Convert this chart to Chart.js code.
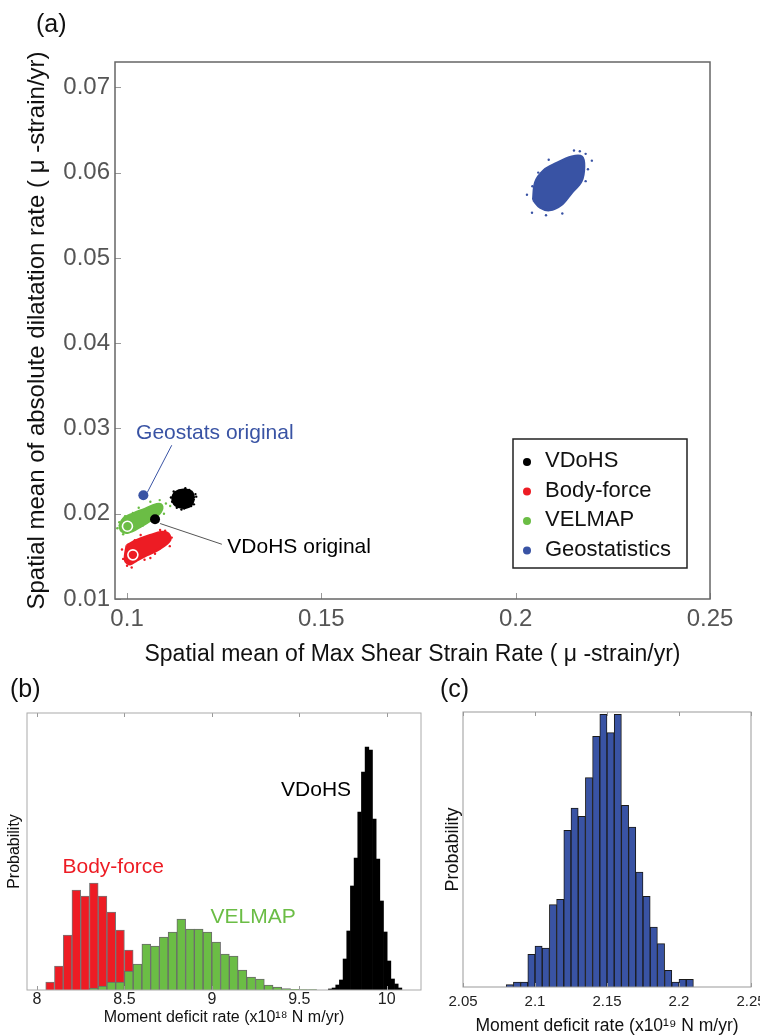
<!DOCTYPE html>
<html>
<head>
<meta charset="utf-8">
<script src="https://cdn.jsdelivr.net/npm/chart.js@4.4.1/dist/chart.umd.min.js"></script>
<style>
  body { margin: 0; background: #fff; }
  #wrap { position: relative; width: 760px; height: 1035px; overflow: hidden; font-family: 'Liberation Sans', Arial, sans-serif; }
  #wrap canvas { position: absolute; }
  .tag { position: absolute; font-size: 25px; color: #111; line-height: 1; }
</style>
</head>
<body>
<div id="wrap">
  <canvas id="scatterA" width="760" height="680" style="left:0;top:0"></canvas>
  <canvas id="histB" width="430" height="355" style="left:0;top:680px"></canvas>
  <canvas id="histC" width="330" height="355" style="left:430px;top:680px"></canvas>
  <div class="tag" style="left:36px;top:11px">(a)</div>
  <div class="tag" style="left:10px;top:676px">(b)</div>
  <div class="tag" style="left:440px;top:676px">(c)</div>
</div>
<script>
Chart.defaults.font.family = "'Liberation Sans', Arial, sans-serif";
Chart.defaults.color = '#111';
Chart.defaults.animation = false;
Chart.defaults.plugins.legend.display = false;
Chart.defaults.plugins.tooltip.enabled = false;

// ---- (a) strain-rate scatter ----
const methodNames = ['VDoHS', 'Body-force', 'VELMAP', 'Geostatistics'];
const methodColors = ['#000000', '#ed1c24', '#6bbd45', '#3953a4'];

// original (un-perturbed) solutions
const originalX = [0.1072, 0.1015, 0.1001, 0.1042];
const originalY = [0.01935, 0.01518, 0.01853, 0.02217];

// outlines of the Monte Carlo clouds
const vdohsCloudX = [0.11724, 0.11660, 0.11454, 0.11248, 0.11171, 0.11248, 0.11441, 0.11647];
const vdohsCloudY = [0.021815, 0.022578, 0.022812, 0.022519, 0.021757, 0.020994, 0.020700, 0.020994];
const bodyCloudX = [0.09992, 0.10250, 0.10592, 0.10893, 0.11063, 0.11107, 0.10849, 0.10507, 0.10250, 0.10077, 0.09949];
const bodyCloudY = [0.01630, 0.01689, 0.01747, 0.01786, 0.01767, 0.01689, 0.01591, 0.01513, 0.01454, 0.01407, 0.01454];
const velmapCloudX = [0.09802, 0.09905, 0.10162, 0.10419, 0.10764, 0.10893, 0.10867, 0.10677, 0.10335, 0.10033, 0.09864];
const velmapCloudY = [0.01853, 0.01943, 0.02002, 0.02049, 0.02111, 0.02099, 0.02021, 0.01943, 0.01845, 0.01779, 0.01794];
const geoCloudX = [0.20450, 0.20507, 0.20723, 0.21022, 0.21444, 0.21701, 0.21760, 0.21690, 0.21433, 0.21176, 0.20870, 0.20628];
const geoCloudY = [0.05680, 0.05889, 0.06026, 0.06104, 0.06186, 0.06186, 0.06069, 0.05898, 0.05760, 0.05623, 0.05560, 0.05592];

// loose samples around the cloud edges
const vdohsStrayX = [0.1178, 0.1116, 0.1150, 0.1140, 0.1172, 0.1120, 0.1160, 0.1128, 0.1176, 0.1113, 0.1147, 0.1165];
const vdohsStrayY = [0.0220, 0.0214, 0.0230, 0.0205, 0.0211, 0.0226, 0.0228, 0.0207, 0.0223, 0.0219, 0.0206, 0.0209];
const bodyStrayX = [0.0990, 0.1000, 0.1045, 0.1085, 0.1115, 0.1110, 0.1020, 0.0987, 0.1072, 0.1035, 0.1098, 0.1060, 0.1012];
const bodyStrayY = [0.0147, 0.0139, 0.0146, 0.0181, 0.0172, 0.0162, 0.0169, 0.0158, 0.0153, 0.0175, 0.0180, 0.0148, 0.0137];
const velmapStrayX = [0.0975, 0.0980, 0.0990, 0.1060, 0.1100, 0.1095, 0.1015, 0.1040, 0.1111, 0.0995, 0.1072, 0.1030, 0.1084];
const velmapStrayY = [0.0183, 0.0190, 0.0176, 0.0214, 0.0212, 0.0200, 0.0201, 0.0186, 0.0209, 0.0197, 0.0196, 0.0207, 0.0216];
const geoStrayX = [0.2029, 0.2042, 0.2180, 0.2196, 0.2165, 0.2120, 0.2085, 0.2180, 0.2078, 0.2186, 0.2043, 0.2150, 0.2058];
const geoStrayY = [0.0574, 0.0553, 0.0622, 0.0614, 0.0625, 0.0552, 0.0615, 0.0590, 0.0550, 0.0604, 0.0584, 0.0626, 0.0600];

// call-outs
const calloutTexts = ['Geostats original', 'VDoHS original'];
const calloutX = [0.10232, 0.12581];
const calloutY = [0.02948, 0.01610];
const calloutColors = ['#3953a4', '#000000'];
const geoLeaderX = [0.1115, 0.1052];
const geoLeaderY = [0.02803, 0.02249];
const vdohsLeaderX = [0.1085, 0.1244];
const vdohsLeaderY = [0.01885, 0.01642];

const xTicksA = [0.1, 0.15, 0.2, 0.25];
const xTickLabelsA = ['0.1', '0.15', '0.2', '0.25'];
const yTicksA = [0.01, 0.02, 0.03, 0.04, 0.05, 0.06, 0.07];
const yTickLabelsA = ['0.01', '0.02', '0.03', '0.04', '0.05', '0.06', '0.07'];

// ---- (b) moment deficit histograms ----
const bodyBinCenters = [8.075, 8.125, 8.175, 8.225, 8.275, 8.325, 8.375, 8.425, 8.475, 8.525];
const bodyBinHeights = [8, 24, 55, 100, 94, 107, 94, 78, 60, 40];
const velmapBinCenters = [8.325, 8.375, 8.425, 8.475, 8.525, 8.575, 8.625, 8.675, 8.725, 8.775, 8.825, 8.875, 8.925,
                          8.975, 9.025, 9.075, 9.125, 9.175, 9.225, 9.275, 9.325, 9.375, 9.425, 9.475, 9.525, 9.575];
const velmapBinHeights = [2, 4, 8, 8, 19, 26, 46, 44, 53, 58, 71, 61, 61, 58, 48, 36, 34, 20, 13, 11, 5, 3, 1.3, 0.7, 0.4, 0.3];
const vdohsBinCenters = [9.677, 9.698, 9.719, 9.740, 9.761, 9.782, 9.803, 9.824, 9.845, 9.866,
                         9.887, 9.908, 9.929, 9.950, 9.971, 9.992, 10.013, 10.034, 10.055, 10.076];
const vdohsBinHeights = [1, 2, 5, 10, 31, 59, 104, 132, 178, 218, 243, 240, 171, 131, 89, 58, 29, 11, 6, 2];
const histLabelsB = ['Body-force', 'VELMAP', 'VDoHS'];
const histLabelX = [8.436, 9.236, 9.596];
const histLabelY = [123, 73, 200];
const histLabelColors = ['#ed1c24', '#6bbd45', '#000000'];
const xTicksB = [8, 8.5, 9, 9.5, 10];
const xTickLabelsB = ['8', '8.5', '9', '9.5', '10'];

// ---- (c) geostatistics histogram ----
const geoBinCenters = [2.0825, 2.0875, 2.0925, 2.0975, 2.1025, 2.1075, 2.1125, 2.1175, 2.1225, 2.1275, 2.1325, 2.1375, 2.1425,
                       2.1475, 2.1525, 2.1575, 2.1625, 2.1675, 2.1725, 2.1775, 2.1825, 2.1875, 2.1925, 2.1975, 2.2025, 2.2075];
const geoBinHeights = [7, 15, 15, 98, 123, 117, 247, 263, 470, 537, 512, 628, 752, 818, 763, 818, 545, 480, 345, 272, 180, 130, 50, 15, 23, 23];
const xTicksC = [2.05, 2.1, 2.15, 2.2, 2.25];
const xTickLabelsC = ['2.05', '2.1', '2.15', '2.2', '2.25'];

function toPts(xs, ys) {
  return xs.map((x, i) => ({ x: x, y: ys[i] }));
}

function fixedTicks(values) {
  return scale => { scale.ticks = values.map(v => ({ value: v })); };
}

// boxed axes with inward tick marks
const frameTicks = {
  id: 'frameTicks',
  afterDraw(chart, args, opts) {
    const { ctx, chartArea: a } = chart;
    ctx.save();
    ctx.strokeStyle = opts.tickColor;
    ctx.lineWidth = 1;
    ctx.beginPath();
    const xs = chart.scales.x;
    xs.ticks.forEach(t => {
      const px = Math.round(xs.getPixelForValue(t.value)) + 0.5;
      if (opts.bottom) { ctx.moveTo(px, a.bottom); ctx.lineTo(px, a.bottom - opts.len); }
      if (opts.top) { ctx.moveTo(px, a.top); ctx.lineTo(px, a.top + opts.len); }
    });
    if (opts.left) {
      const ys = chart.scales.y;
      ys.ticks.forEach(t => {
        const py = Math.round(ys.getPixelForValue(t.value)) + 0.5;
        ctx.moveTo(a.left, py); ctx.lineTo(a.left + opts.len, py);
      });
    }
    ctx.stroke();
    ctx.strokeStyle = opts.color;
    ctx.lineWidth = opts.width;
    ctx.strokeRect(a.left, a.top, a.right - a.left, a.bottom - a.top);
    ctx.restore();
  }
};

// free text placed in data coordinates
const dataText = {
  id: 'dataText',
  afterDatasetsDraw(chart, args, opts) {
    const { ctx } = chart;
    const xs = chart.scales.x, ys = chart.scales.y;
    ctx.save();
    ctx.font = opts.size + "px 'Liberation Sans', Arial, sans-serif";
    ctx.textBaseline = 'middle';
    ctx.textAlign = opts.align;
    opts.texts.forEach((t, i) => {
      ctx.fillStyle = opts.colors[i];
      ctx.fillText(t, xs.getPixelForValue(opts.xs[i]), ys.getPixelForValue(opts.ys[i]));
    });
    ctx.restore();
  }
};

// legend box in the lower right of panel (a)
const methodLegend = {
  id: 'methodLegend',
  afterDraw(chart) {
    const { ctx } = chart;
    ctx.save();
    ctx.fillStyle = '#fff';
    ctx.fillRect(513, 439, 174, 129);
    ctx.strokeStyle = '#222';
    ctx.lineWidth = 1.5;
    ctx.strokeRect(513, 439, 174, 129);
    ctx.font = "22px 'Liberation Sans', Arial, sans-serif";
    ctx.textBaseline = 'middle';
    methodNames.forEach((name, i) => {
      const y = 461 + i * 29.5;
      ctx.fillStyle = methodColors[i];
      ctx.beginPath();
      ctx.arc(527, y + 1, 4, 0, Math.PI * 2);
      ctx.fill();
      ctx.fillStyle = '#111';
      ctx.fillText(name, 545, y);
    });
    ctx.restore();
  }
};

function cloudOutline(xs, ys, color) {
  const pts = toPts(xs, ys);
  pts.push(pts[0]);
  return {
    type: 'line', data: pts, fill: 'shape', backgroundColor: color, borderColor: color,
    borderWidth: 2.5, pointRadius: 0, tension: 0.35, order: 4
  };
}

function strays(xs, ys, color) {
  return { type: 'scatter', data: toPts(xs, ys), backgroundColor: color, borderWidth: 0, pointRadius: 1.2, order: 3 };
}

function leader(xs, ys, color) {
  return { type: 'line', data: toPts(xs, ys), borderColor: color, borderWidth: 1, pointRadius: 0, fill: false, order: 2 };
}

const originalPoints = {
  type: 'scatter',
  data: toPts(originalX, originalY),
  backgroundColor: methodColors,
  borderColor: ['#000000', '#ffffff', '#ffffff', '#3953a4'],
  borderWidth: [0, 1.6, 1.6, 0],
  pointRadius: 5,
  order: 0
};

new Chart(document.getElementById('scatterA'), {
  type: 'scatter',
  data: {
    datasets: [
      cloudOutline(geoCloudX, geoCloudY, methodColors[3]),
      cloudOutline(bodyCloudX, bodyCloudY, methodColors[1]),
      cloudOutline(velmapCloudX, velmapCloudY, methodColors[2]),
      cloudOutline(vdohsCloudX, vdohsCloudY, methodColors[0]),
      strays(geoStrayX, geoStrayY, methodColors[3]),
      strays(bodyStrayX, bodyStrayY, methodColors[1]),
      strays(velmapStrayX, velmapStrayY, methodColors[2]),
      strays(vdohsStrayX, vdohsStrayY, methodColors[0]),
      leader(geoLeaderX, geoLeaderY, '#3953a4'),
      leader(vdohsLeaderX, vdohsLeaderY, '#555555'),
      originalPoints
    ]
  },
  options: {
    responsive: false,
    layout: { padding: { top: 62, right: 50, left: 0, bottom: 0 } },
    scales: {
      x: {
        type: 'linear', min: 0.0969, max: 0.25,
        afterBuildTicks: fixedTicks(xTicksA),
        afterFit: s => { s.height = 81; s.paddingLeft = 0; s.paddingRight = 0; },
        grid: { display: false, drawTicks: false },
        border: { display: false },
        ticks: { callback: (v, i) => xTickLabelsA[i], font: { size: 24 }, color: '#555', padding: 6, maxRotation: 0, autoSkip: false },
        title: { display: true, text: 'Spatial mean of Max Shear Strain Rate ( μ -strain/yr)', font: { size: 23 }, color: '#111', padding: { top: 0, bottom: 12 } }
      },
      y: {
        type: 'linear', min: 0.01, max: 0.07297,
        afterBuildTicks: fixedTicks(yTicksA),
        afterFit: s => { s.width = 115; s.paddingTop = 0; s.paddingBottom = 0; },
        grid: { display: false, drawTicks: false },
        border: { display: false },
        ticks: { callback: (v, i) => yTickLabelsA[i], font: { size: 24 }, color: '#555', padding: 5, autoSkip: false },
        title: { display: true, text: 'Spatial mean of absolute dilatation rate ( μ -strain/yr)', font: { size: 24 }, color: '#111', padding: { top: 23, bottom: 0 } }
      }
    },
    plugins: {
      frameTicks: { color: '#666', width: 1.5, tickColor: '#999', len: 6, left: true, bottom: true },
      dataText: { texts: calloutTexts, xs: calloutX, ys: calloutY, colors: calloutColors, size: 21, align: 'left' }
    }
  },
  plugins: [frameTicks, dataText, methodLegend]
});

// ---- (b) ----
function histBars(centers, heights, fill, stroke, width, axis, order) {
  return {
    data: toPts(centers, heights), xAxisID: axis, backgroundColor: fill, borderColor: stroke,
    borderWidth: width, barPercentage: 1, categoryPercentage: 1, grouped: false, order: order
  };
}

const rangeB = { min: 7.943, max: 10.196 };

new Chart(document.getElementById('histB'), {
  type: 'bar',
  data: {
    datasets: [
      histBars(velmapBinCenters, velmapBinHeights, '#6bbd45', '#6a6a6a', 1, 'x2', 1),
      histBars(bodyBinCenters, bodyBinHeights, '#ed1c24', '#777777', 1, 'x', 2),
      histBars(vdohsBinCenters, vdohsBinHeights, '#000000', '#000000', 0, 'x3', 0)
    ]
  },
  options: {
    responsive: false,
    layout: { padding: { top: 33, right: 9, left: 0, bottom: 0 } },
    scales: {
      x: {
        type: 'linear', min: rangeB.min, max: rangeB.max, offset: false,
        afterBuildTicks: fixedTicks(xTicksB),
        afterFit: s => { s.height = 45; s.paddingLeft = 0; s.paddingRight = 0; },
        grid: { display: false, drawTicks: false },
        border: { display: false },
        ticks: { callback: (v, i) => xTickLabelsB[i], font: { size: 16 }, color: '#222', padding: 0, maxRotation: 0, autoSkip: false },
        title: { display: true, text: 'Moment deficit rate (x10¹⁸ N m/yr)', font: { size: 16 }, color: '#111', padding: { top: 0, bottom: 8 } }
      },
      x2: { type: 'linear', display: false, min: rangeB.min, max: rangeB.max, offset: false },
      x3: { type: 'linear', display: false, min: rangeB.min, max: rangeB.max, offset: false },
      y: {
        min: 0, max: 277,
        afterFit: s => { s.width = 27; },
        grid: { display: false, drawTicks: false },
        border: { display: false },
        ticks: { display: false },
        title: { display: true, text: 'Probability', font: { size: 16 }, color: '#111', padding: { top: 5, bottom: 0 } }
      }
    },
    plugins: {
      frameTicks: { color: '#aaa', width: 1, tickColor: '#999', len: 4, top: true, bottom: true },
      dataText: { texts: histLabelsB, xs: histLabelX, ys: histLabelY, colors: histLabelColors, size: 21, align: 'center' }
    }
  },
  plugins: [frameTicks, dataText]
});

// ---- (c) ----
new Chart(document.getElementById('histC'), {
  type: 'bar',
  data: {
    datasets: [histBars(geoBinCenters, geoBinHeights, '#3953a4', '#1a1a1a', 1, 'x', 0)]
  },
  options: {
    responsive: false,
    layout: { padding: { top: 32, right: 9, left: 0, bottom: 0 } },
    scales: {
      x: {
        type: 'linear', min: 2.05, max: 2.25, offset: false,
        afterBuildTicks: fixedTicks(xTicksC),
        afterFit: s => { s.height = 48; s.paddingLeft = 0; s.paddingRight = 0; },
        grid: { display: false, drawTicks: false },
        border: { display: false },
        ticks: { callback: (v, i) => xTickLabelsC[i], font: { size: 15 }, color: '#222', padding: 6, maxRotation: 0, autoSkip: false },
        title: { display: true, text: 'Moment deficit rate (x10¹⁹ N m/yr)', font: { size: 17.5, lineHeight: 1 }, color: '#111', padding: { top: 0, bottom: 0 } }
      },
      y: {
        min: 0, max: 825,
        afterFit: s => { s.width = 33; },
        grid: { display: false, drawTicks: false },
        border: { display: false },
        ticks: { display: false },
        title: { display: true, text: 'Probability', font: { size: 18 }, color: '#111', padding: { top: 12, bottom: 0 } }
      }
    },
    plugins: {
      frameTicks: { color: '#999', width: 1, tickColor: '#999', len: 4, top: true, bottom: true }
    }
  },
  plugins: [frameTicks]
});
</script>
</body>
</html>
